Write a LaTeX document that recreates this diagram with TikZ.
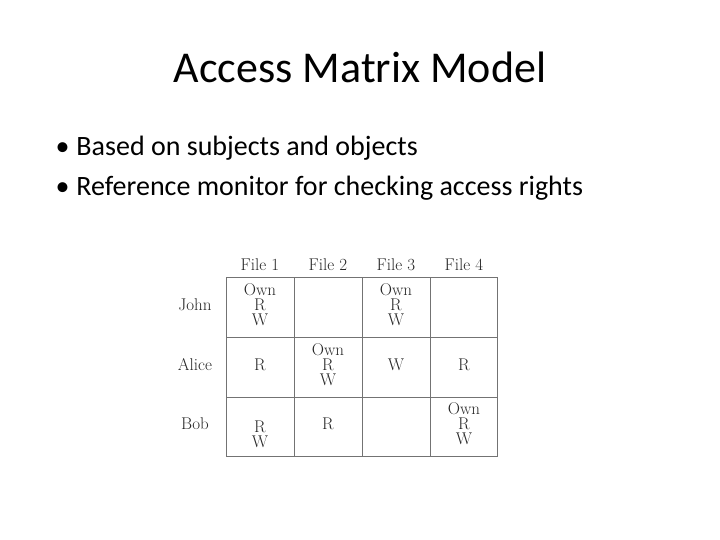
\documentclass[tikz,border=0pt]{standalone}
\usepackage{fontspec}
\newfontfamily\calfont{Carlito}
\begin{document}
\begin{tikzpicture}[x=1pt,y=-1pt,
  cell/.style={font=\fontsize{17}{15}\selectfont, text=black!85, align=center, inner sep=0},
  grid/.style={draw=black!55, line width=0.8pt},
  bul/.style={font=\calfont\fontsize{28}{30}\selectfont, anchor=west}]
\useasboundingbox (0,0) rectangle (720,540);
\node[font=\calfont\fontsize{44}{48}\selectfont] (title) at (360,67) {Access Matrix Model};
\node[bul] (b1) at (52,148) {•\hspace{7pt}Based on subjects and objects};
\node[bul] (b2) at (52,188) {•\hspace{7pt}Reference monitor for checking access rights};
\draw[grid] (226,277) rectangle (497,456);
\foreach \x in {294,362,430} \draw[grid] (\x,277) -- (\x,456);
\foreach \y in {337,397} \draw[grid] (226,\y) -- (497,\y);
\node[cell] (h1) at (260,265) {File 1};
\node[cell] (h2) at (328,265) {File 2};
\node[cell] (h3) at (396,265) {File 3};
\node[cell] (h4) at (464,265) {File 4};
\node[cell] (r1) at (195,305) {John};
\node[cell] (r2) at (195,365) {Alice};
\node[cell] (r3) at (195,424) {Bob};
\node[cell] (c11) at (260,305) {Own\\R\\W};
\node[cell] (c13) at (396,305) {Own\\R\\W};
\node[cell] (c21) at (260,365) {R};
\node[cell] (c22) at (328,365) {Own\\R\\W};
\node[cell] (c23) at (396,365) {W};
\node[cell] (c24) at (464,365) {R};
\node[cell] (c31) at (260,434) {R\\W};
\node[cell] (c32) at (328,424) {R};
\node[cell] (c34) at (464,424) {Own\\R\\W};
\end{tikzpicture}
\end{document}
